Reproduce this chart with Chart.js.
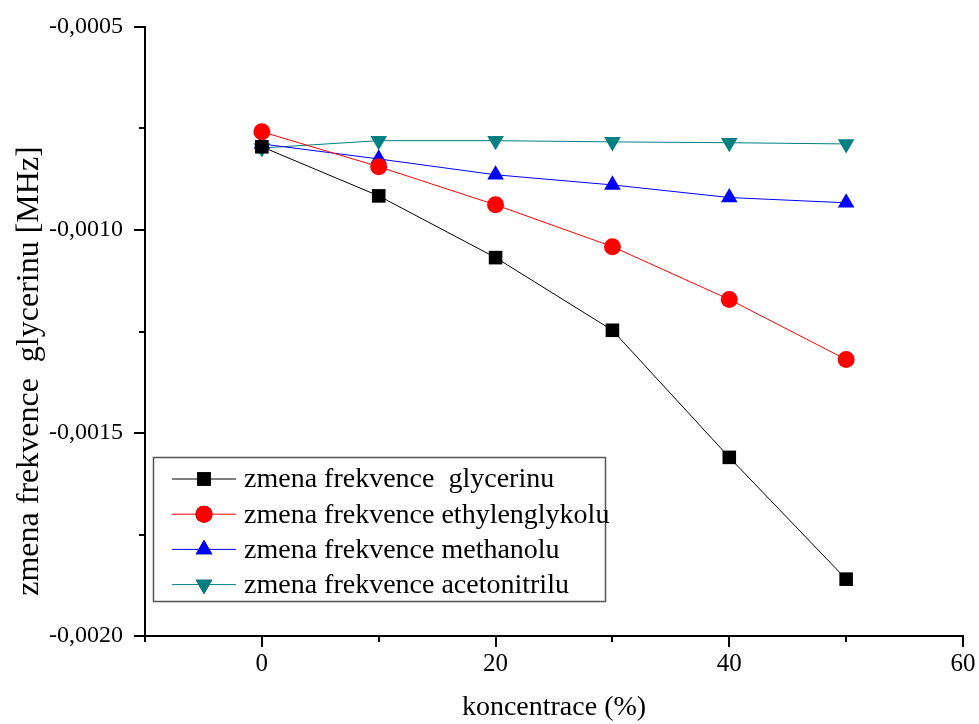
<!DOCTYPE html>
<html>
<head>
<meta charset="utf-8">
<script src="https://cdn.jsdelivr.net/npm/chart.js@4/dist/chart.umd.min.js"></script>
<style>
    html, body { margin: 0; padding: 0; background: #fff; }
    #wrap { width: 979px; height: 724px; }
</style>
</head>
<body>
<div id="wrap"><canvas id="chart" width="979" height="724"></canvas></div>
<script>
// Data
const koncentrace = [0, 10, 20, 30, 40, 50];
const glycerin = [-0.000795, -0.000916, -0.001068, -0.001247, -0.00156, -0.00186];
const ethylenglykol = [-0.000758, -0.000844, -0.000938, -0.001041, -0.001171, -0.001319];
const methanol = [-0.000788, -0.000825, -0.000864, -0.000889, -0.00092, -0.000933];
const acetonitril = [-0.000798, -0.00078, -0.00078, -0.000783, -0.000785, -0.000788];

const seriesNames = [
    'zmena frekvence  glycerinu',
    'zmena frekvence ethylenglykolu',
    'zmena frekvence methanolu',
    'zmena frekvence acetonitrilu'
];

const xTicks = [-10, 0, 10, 20, 30, 40, 50, 60];
const yTicks = [-0.002, -0.00175, -0.0015, -0.00125, -0.001, -0.00075, -0.0005];

const FONT = '"Liberation Serif", "Times New Roman", serif';

function toPoints(ys) {
    return koncentrace.map((x, i) => ({ x: x, y: ys[i] }));
}

function makeSet(label, ys, color, style, rotation) {
    return {
        label: label,
        data: toPoints(ys),
        borderColor: color,
        backgroundColor: color,
        borderWidth: 1,
        pointStyle: style,
        pointRotation: rotation,
        pointRadius: style === 'circle' ? 8.5 : 9.6,
        pointBorderWidth: 0,
        tension: 0
    };
}

// Outside tick marks: long at labelled values, short at the halfway ones
const tickMarks = {
    id: 'tickMarks',
    afterDraw(chart) {
        const ctx = chart.ctx;
        const xs = chart.scales.x;
        const ys = chart.scales.y;
        ctx.save();
        ctx.strokeStyle = '#000';
        ctx.lineWidth = 2;
        xTicks.forEach(v => {
            const px = Math.round(xs.getPixelForValue(v));
            const len = (v % 20 === 0) ? 11 : 6;
            ctx.beginPath();
            ctx.moveTo(px, ys.bottom);
            ctx.lineTo(px, ys.bottom + len);
            ctx.stroke();
        });
        yTicks.forEach((v, i) => {
            const py = Math.round(ys.getPixelForValue(v));
            const len = (i % 2 === 0) ? 11 : 6;
            ctx.beginPath();
            ctx.moveTo(xs.left, py);
            ctx.lineTo(xs.left - len, py);
            ctx.stroke();
        });
        // y axis title, placed a bit below centre as in the original
        ctx.fillStyle = '#000';
        ctx.font = '32px ' + FONT;
        ctx.translate(30, 371);
        ctx.rotate(-Math.PI / 2);
        ctx.textAlign = 'center';
        ctx.textBaseline = 'middle';
        ctx.fillText('zmena frekvence  glycerinu [MHz]', 0, 0);
        ctx.restore();
    }
};

// Boxed legend inside the plot, bottom left
const boxLegend = {
    id: 'boxLegend',
    afterDraw(chart) {
        const ctx = chart.ctx;
        const left = 153, top = 457, width = 452, height = 144;
        ctx.save();
        ctx.strokeStyle = '#555';
        ctx.lineWidth = 1.5;
        ctx.strokeRect(left + 0.5, top + 0.5, width, height);
        ctx.font = '28px ' + FONT;
        ctx.textBaseline = 'middle';
        chart.data.datasets.forEach((ds, i) => {
            const cy = top + 22 + i * 35.2;
            ctx.strokeStyle = ds.borderColor;
            ctx.lineWidth = 1;
            ctx.beginPath();
            ctx.moveTo(172, cy);
            ctx.lineTo(236, cy);
            ctx.stroke();
            Chart.helpers.drawPoint(ctx, {
                pointStyle: ds.pointStyle,
                rotation: ds.pointRotation,
                radius: ds.pointRadius,
                borderWidth: 0
            }, 204, cy);
            ctx.fillStyle = ds.backgroundColor;
            ctx.fill();
            ctx.fillStyle = '#000';
            ctx.fillText(seriesNames[i], 244, cy + 1);
        });
        ctx.restore();
    }
};

document.addEventListener('DOMContentLoaded', function() {
    const ctx = document.getElementById('chart').getContext('2d');
    new Chart(ctx, {
        type: 'line',
        data: {
            datasets: [
                makeSet(seriesNames[0], glycerin, '#000000', 'rect', 0),
                makeSet(seriesNames[1], ethylenglykol, '#ff0000', 'circle', 0),
                makeSet(seriesNames[2], methanol, '#0000ff', 'triangle', 0),
                makeSet(seriesNames[3], acetonitril, '#008080', 'triangle', 180)
            ]
        },
        options: {
            responsive: false,
            animation: false,
            layout: { padding: { top: 27, right: 16, left: 0, bottom: 0 } },
            scales: {
                x: {
                    type: 'linear',
                    min: -10,
                    max: 60,
                    afterFit(scale) {
                        scale.height = 88;
                        scale.paddingLeft = 0;
                        scale.paddingRight = 0;
                    },
                    afterBuildTicks(scale) {
                        scale.ticks = [0, 20, 40, 60].map(v => ({ value: v }));
                    },
                    ticks: {
                        color: '#000',
                        font: { family: FONT, size: 25 },
                        padding: 13,
                        maxRotation: 0
                    },
                    grid: { display: false, drawTicks: false },
                    border: { display: true, color: '#000', width: 2 },
                    title: {
                        display: true,
                        text: 'koncentrace (%)',
                        color: '#000',
                        font: { family: FONT, size: 28 },
                        padding: { top: 10, bottom: 0 }
                    }
                },
                y: {
                    type: 'linear',
                    min: -0.002,
                    max: -0.0005,
                    afterFit(scale) {
                        scale.width = 145;
                        scale.paddingTop = 0;
                        scale.paddingBottom = 0;
                    },
                    afterBuildTicks(scale) {
                        scale.ticks = [-0.002, -0.0015, -0.001, -0.0005].map(v => ({ value: v }));
                    },
                    ticks: {
                        color: '#000',
                        font: { family: FONT, size: 24 },
                        padding: 22,
                        callback: v => v.toFixed(4).replace('.', ',')
                    },
                    grid: { display: false, drawTicks: false },
                    border: { display: true, color: '#000', width: 2 }
                }
            },
            plugins: {
                legend: { display: false },
                tooltip: { enabled: false }
            }
        },
        plugins: [tickMarks, boxLegend]
    });
});
</script>
</body>
</html>
